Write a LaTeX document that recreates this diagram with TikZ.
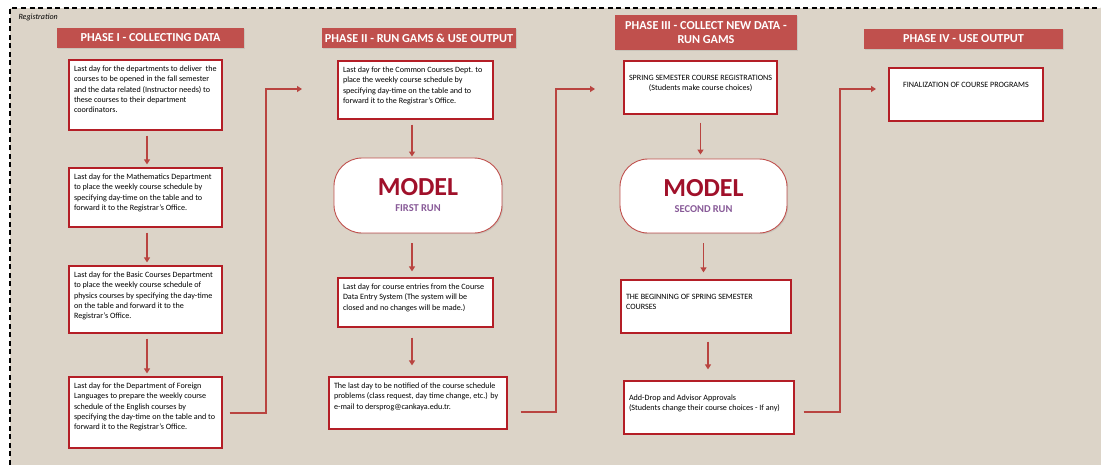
\documentclass[tikz,border=0pt]{standalone}
\usepackage{fontspec}
\setmainfont{Carlito}
\usetikzlibrary{arrows.meta,shadows,calc}
\definecolor{bg}{RGB}{220,212,200}
\definecolor{hdr}{RGB}{192,80,77}
\definecolor{boxred}{RGB}{180,30,38}
\definecolor{arrred}{RGB}{185,68,64}
\definecolor{modelred}{RGB}{160,16,42}
\definecolor{runpurple}{RGB}{136,90,152}
\newcommand{\bxt}[3]{\parbox[c][#2pt][t]{#1pt}{\begin{tabular}[t]{@{}l@{}}#3\end{tabular}}}
\newcommand{\bxc}[3]{\parbox[c][#2pt][t]{#1pt}{\centering\begin{tabular}[t]{@{}c@{}}#3\end{tabular}}}
\begin{document}
\begin{tikzpicture}[x=1pt,y=-1pt,
  box/.style={draw=boxred, line width=1.2pt, fill=white, inner xsep=5pt, inner ysep=4pt,
    font=\fontsize{8.1}{10.4}\selectfont,
    drop shadow={shadow xshift=1.2pt, shadow yshift=-1.2pt, opacity=0.25}},
  smallbox/.style={box, font=\fontsize{8.1}{10}\selectfont},
  header/.style={fill=hdr, text=white, font=\bfseries\fontsize{12.2}{14.5}\selectfont,
    inner sep=0pt, align=center,
    drop shadow={shadow xshift=1pt, shadow yshift=-1pt, opacity=0.2}},
  model/.style={draw=hdr, line width=0.9pt, fill=white, rounded corners=28pt, inner sep=0pt,
    align=center,
    drop shadow={shadow xshift=1.2pt, shadow yshift=-1.2pt, opacity=0.2}},
  arr/.style={draw=arrred, line width=1.8pt, -{Triangle[length=5pt,width=6pt]}},
  link/.style={draw=arrred, line width=1.8pt, -{Triangle[length=5pt,width=6pt]}}
]
\useasboundingbox (0,0) rectangle (1101,464);
\clip (0,0) rectangle (1101,464);
\fill[white] (0,0) rectangle (1101,464);
\fill[bg] (10,8) rectangle (1130,490);
\draw[line width=1.3pt, dash pattern=on 5pt off 3.5pt] (10,490) -- (10,8) -- (1130,8);
\node[anchor=west, font=\itshape\fontsize{8}{9}\selectfont] (reg) at (15,17) {Registration};

% headers
\node[header, minimum width=187pt, minimum height=20pt] (h1) at (150.5,38) {PHASE I - COLLECTING DATA};
\node[header, minimum width=194pt, minimum height=20pt] (h2) at (419,38) {PHASE II - RUN GAMS \& USE OUTPUT};
\node[header, minimum width=182pt, minimum height=35pt] (h3) at (706,32.5) {PHASE III - COLLECT NEW DATA -\\RUN GAMS};
\node[header, minimum width=199pt, minimum height=20pt] (h4) at (963.5,39) {PHASE IV - USE OUTPUT};

% Phase I
\node[box] (a1) at (145.5,95) {\bxt{143}{62}{Last day for the departments to deliver\ \ the\\courses to be opened in the fall semester\\and the data related (Instructor needs) to\\these courses to their department\\coordinators.}};
\node[box] (a2) at (145.5,197.5) {\bxt{143}{51}{Last day for the Mathematics Department\\to place the weekly course schedule by\\specifying day-time on the table and to\\forward it to the Registrar's Office.}};
\node[box] (a3) at (145.5,299.5) {\bxt{143}{59}{Last day for the Basic Courses Department\\to place the weekly course schedule of\\physics courses by specifying the day-time\\on the table and forward it to the\\Registrar's Office.}};
\node[box] (a4) at (145.5,412.5) {\bxt{143}{63}{Last day for the Department of Foreign\\Languages to prepare the weekly course\\schedule of the English courses by\\specifying the day-time on the table and to\\forward it to the Registrar's Office.}};

\draw[arr, shorten <=5pt, shorten >=3pt] ([xshift=1.5pt]a1.south) -- ([xshift=1.5pt]a2.north);
\draw[arr, shorten <=5pt, shorten >=3pt] ([xshift=1.5pt]a2.south) -- ([xshift=1.5pt]a3.north);
\draw[arr, shorten <=5pt, shorten >=3pt] ([xshift=1.5pt]a3.south) -- ([xshift=1.5pt]a4.north);

% Phase II
\node[box] (b1) at (415.5,90) {\bxt{145}{50}{Last day for the Common Courses Dept. to\\place the weekly course schedule by\\specifying day-time on the table and to\\forward it to the Registrar's Office.}};
\node[model, minimum width=168pt, minimum height=75pt] (m1) at (418,195.5) {%
  {\color{modelred}\bfseries\fontsize{26}{28}\selectfont MODEL}\\[4pt]
  {\color{runpurple}\bfseries\fontsize{10.5}{12}\selectfont FIRST RUN}};
\node[box] (b2) at (415.5,302.5) {\bxt{145}{41}{Last day for course entries from the Course\\Data Entry System (The system will be\\closed and no changes will be made.)}};
\node[box] (b3) at (418,403) {\bxt{168}{44}{The last day to be notified of the course schedule\\problems (class request, day time change, etc.) by\\e-mail to dersprog@cankaya.edu.tr.}};

\draw[arr, shorten <=5pt, shorten >=1pt] ([xshift=-3.5pt]b1.south) -- ([xshift=-3.5pt]b1.south |- m1.north);
\draw[arr, shorten <=10pt, shorten >=6pt] ([xshift=-6pt]m1.south) -- ([xshift=-6pt]m1.south |- b2.north);
\draw[arr, shorten <=10pt, shorten >=11pt] ([xshift=-3.5pt]b2.south) -- ([xshift=-3.5pt]b2.south |- b3.north);

% Phase III
\node[smallbox] (c1) at (700.5,87.5) {\bxc{143}{45}{\rule{0pt}{15pt}SPRING SEMESTER COURSE REGISTRATIONS\\(Students make course choices)}};
\node[model, minimum width=167pt, minimum height=74pt] (m2) at (703.5,196) {%
  {\color{modelred}\bfseries\fontsize{26}{28}\selectfont MODEL}\\[4pt]
  {\color{runpurple}\bfseries\fontsize{10.5}{12}\selectfont SECOND RUN}};
\node[smallbox] (c2) at (706,306.5) {\bxt{160}{45}{\rule{0pt}{15pt}THE BEGINNING OF SPRING SEMESTER\\COURSES}};
\node[smallbox] (c3) at (709,407.5) {\bxt{160}{45}{\rule{0pt}{15pt}Add-Drop and Advisor Approvals\\(Students change their course choices - If any)}};

\draw[arr, shorten <=8pt, shorten >=4pt] (c1.south) -- (c1.south |- m2.north);
\draw[arr, shorten <=10pt, shorten >=7pt] (m2.south) -- (m2.south |- c2.north);
\draw[arr, shorten <=8pt, shorten >=11pt] ([xshift=2pt]c2.south) -- ([xshift=2pt]c2.south |- c3.north);

% Phase IV
\node[smallbox] (d1) at (966,94.5) {\bxc{144}{45}{\rule{0pt}{15pt}FINALIZATION OF COURSE PROGRAMS}};

% links between phases
\coordinate (e1) at (302,89);
\coordinate (e2) at (595,89);
\coordinate (e3) at (876,89);
\draw[link] ([xshift=7pt]a4.east |- 0,413) -- (266,413) -- (266,89) -- (e1);
\draw[link] ([xshift=13pt]b3.east |- 0,412) -- (556,412) -- (556,89) -- (e2);
\draw[link] ([xshift=9pt]c3.east |- 0,412) -- (840,412) -- (840,89) -- (e3);
\end{tikzpicture}
\end{document}
